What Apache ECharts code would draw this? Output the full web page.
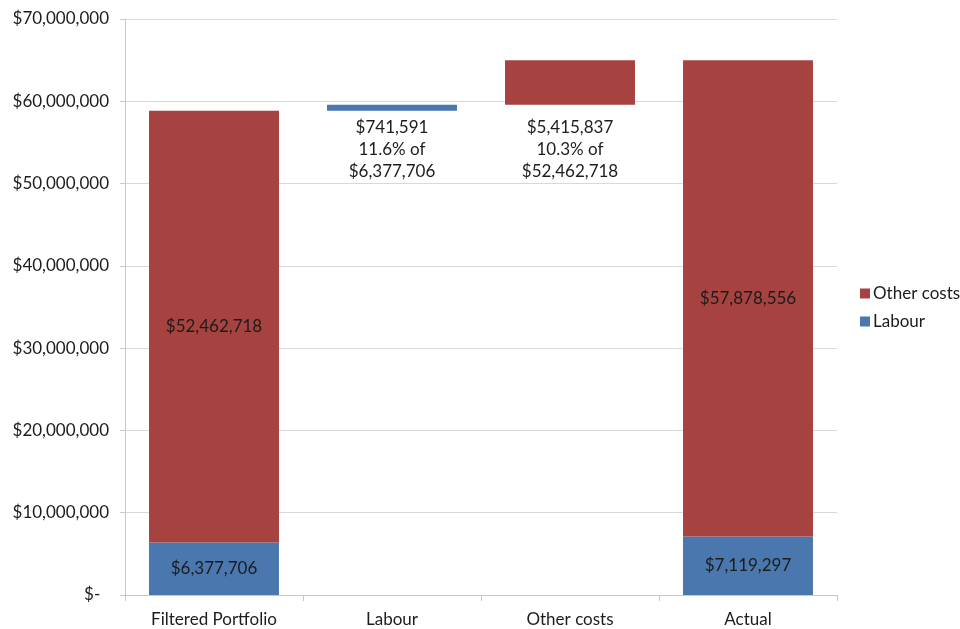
<!DOCTYPE html>
<html><head><meta charset="utf-8">
<script src="https://cdn.jsdelivr.net/npm/echarts@6/dist/echarts.min.js"></script>
<style>html,body{margin:0;padding:0;background:#fff}#c{width:960px;height:629px}</style>
</head><body><div id="c"></div>
<script>
const categories = ['Filtered Portfolio', 'Labour', 'Other costs', 'Actual'];
const baseValues = [0, 58840424, 59582015, 0];
const labourValues = [6377706, 741591, null, 7119297];
const otherValues = [52462718, null, 5415837, 57878556];
const labourNote = '11.6% of\n$6,377,706';
const otherNote = '10.3% of\n$52,462,718';
const yTicks = [0, 10000000, 20000000, 30000000, 40000000, 50000000, 60000000, 70000000];

const fmt = v => '$' + Number(v).toLocaleString('en-US');
const FONT = 'Lato';
const FS = 17;
const RED = '#A6423F', BLUE = '#4A77AD', TXT = '#1c1c1c';

const labourData = labourValues.map((v, i) => {
  if (v == null) return '-';
  if (i === 1) return { value: v, label: { position: 'bottom', distance: 6, formatter: p => fmt(p.value) + '\n' + labourNote } };
  return v;
});
const otherData = otherValues.map((v, i) => {
  if (v == null) return '-';
  if (i === 2) return { value: v, label: { position: 'bottom', distance: 12, formatter: p => fmt(p.value) + '\n' + otherNote } };
  return v;
});

const labelCommon = { show: true, position: 'inside', color: TXT, fontFamily: FONT, fontSize: FS, lineHeight: 22, formatter: p => fmt(p.value) };

const chart = echarts.init(document.getElementById('c'), null, { renderer: 'canvas' });
chart.setOption({
  animation: false,
  backgroundColor: '#fff',
  grid: { left: 125, right: 123, top: 19, bottom: 34, containLabel: false },
  legend: {
    data: ['Other costs', 'Labour'],
    orient: 'vertical', left: 855, top: 280,
    itemWidth: 10, itemHeight: 10, itemGap: 11, icon: 'rect',
    textStyle: { fontFamily: FONT, fontSize: FS, color: TXT, padding: [0, 0, 0, -2] }
  },
  xAxis: {
    type: 'category', data: categories,
    axisLine: { lineStyle: { color: '#c8c8c8' } },
    axisTick: { show: true, length: 6, lineStyle: { color: '#c8c8c8' } },
    axisLabel: { fontFamily: FONT, fontSize: FS, color: TXT, margin: 16 }
  },
  yAxis: {
    type: 'value', min: 0, max: 70000000, interval: 10000000,
    axisLine: { show: true, lineStyle: { color: '#c8c8c8' } },
    axisTick: { show: true, length: 5, lineStyle: { color: '#c8c8c8' } },
    splitLine: { lineStyle: { color: '#d9d9d9' } },
    axisLabel: { fontFamily: FONT, fontSize: FS, color: TXT, margin: 16,
      formatter: v => (yTicks.includes(v) ? (v === 0 ? '$-  ' : fmt(v)) : '') }
  },
  series: [
    { name: 'base', type: 'bar', stack: 't', data: baseValues, silent: true,
      itemStyle: { color: 'transparent' }, barWidth: '73%' },
    { name: 'Labour', type: 'bar', stack: 't', data: labourData,
      itemStyle: { color: BLUE }, label: labelCommon, barWidth: '73%' },
    { name: 'Other costs', type: 'bar', stack: 't', data: otherData,
      itemStyle: { color: RED }, label: labelCommon, barWidth: '73%' }
  ]
});
</script></body></html>
